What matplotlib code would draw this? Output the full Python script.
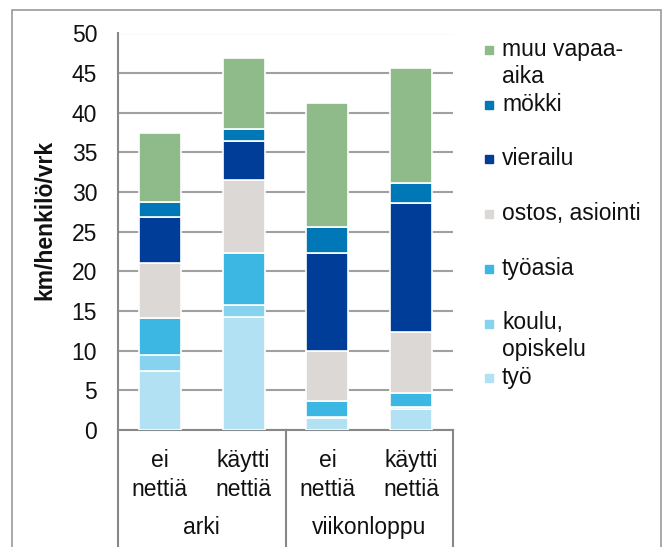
import matplotlib
matplotlib.use("Agg")
import matplotlib.pyplot as plt
from matplotlib.patches import Rectangle
import numpy as np

plt.rcParams['font.family'] = ['Liberation Sans', 'DejaVu Sans']

# data (km/henkilö/vrk), bars: arki ei/käytti, viikonloppu ei/käytti
bar_labels = ['ei\nnettiä', 'käytti\nnettiä', 'ei\nnettiä', 'käytti\nnettiä']
groups = ['arki', 'viikonloppu']
series = ['työ', 'koulu,\nopiskelu', 'työasia', 'ostos, asiointi', 'vierailu', 'mökki', 'muu vapaa-\naika']
tyo = [7.4, 14.3, 1.5, 2.6]
koulu = [2.1, 1.5, 0.1, 0.3]
tyoasia = [4.6, 6.5, 2.0, 1.8]
ostos = [6.9, 9.2, 6.4, 7.7]
vierailu = [5.9, 4.9, 12.3, 16.2]
mokki = [1.9, 1.6, 3.3, 2.6]
muu = [8.6, 8.9, 15.6, 14.5]
colors = ['#B1E1F2', '#87D2EE', '#3CB7E4', '#DCD8D5', '#003D99', '#0077B6', '#8FBA8A']

values = [tyo, koulu, tyoasia, ostos, vierailu, mokki, muu]
fs = 16.5

fig = plt.figure(figsize=(6.67, 5.47), dpi=100)
ax = fig.add_axes([118/667, 1-430/547, (453-118)/667, (430-33.5)/547])

x = np.arange(len(bar_labels))
bottom = np.zeros(len(x))
for vals, col, name in zip(values, colors, series):
    ax.bar(x, vals, 0.5, bottom=bottom, color=col, edgecolor='white', linewidth=1.2, label=name, zorder=3)
    bottom += np.array(vals)

ax.set_xlim(-0.5, 3.5)
ax.set_ylim(0, 50)
ax.set_yticks(range(0, 51, 5))
ax.tick_params(axis='y', length=0, labelsize=fs, pad=15, labelcolor='#111111')
ax.set_xticks([])
ax.yaxis.grid(True, color='#A0A0A0', linewidth=1.5, zorder=0)
for s in ['top', 'right']:
    ax.spines[s].set_visible(False)
ax.spines['left'].set_color('#888888')
ax.spines['bottom'].set_color('#888888')
ax.spines['left'].set_linewidth(1.5)
ax.spines['bottom'].set_linewidth(1.5)

# category axis with groups
trans = ax.get_xaxis_transform()
for xv in [-0.5, 1.5, 3.5]:
    ax.plot([xv, xv], [0, -0.35], transform=trans, color='#888888', linewidth=1.5, clip_on=False)
for xi, lab in zip(x, bar_labels):
    ax.text(xi, -0.113, lab, transform=trans, ha='center', va='center', fontsize=fs, linespacing=1.3, color='#111111')
for gi, g in enumerate(groups):
    ax.text(gi * 2 + 0.5, -0.245, g, transform=trans, ha='center', va='center', fontsize=fs, color='#111111')

fig.text(45/667, 1-220/547, 'km/henkilö/vrk', rotation=90, ha='center', va='center', fontsize=fs, fontweight='bold', color='#111111')

# legend, top entry first
for i, (name, col) in enumerate(zip(series[::-1], colors[::-1])):
    yc = 50 + i * 54.7
    fig.patches.append(Rectangle(((489-4)/667, 1-(yc+4)/547), 8/667, 8/547, transform=fig.transFigure, color=col))
    fig.text(502/667, 1-(yc-12)/547, name, ha='left', va='top', fontsize=fs, linespacing=1.2, color='#111111')

# chart border
fig.patches.append(Rectangle((12/667, -0.02), (661-12)/667, 1-10/547+0.02, transform=fig.transFigure, fill=False, edgecolor='#999999', linewidth=1.2))

fig.savefig('out.png', dpi=100)
